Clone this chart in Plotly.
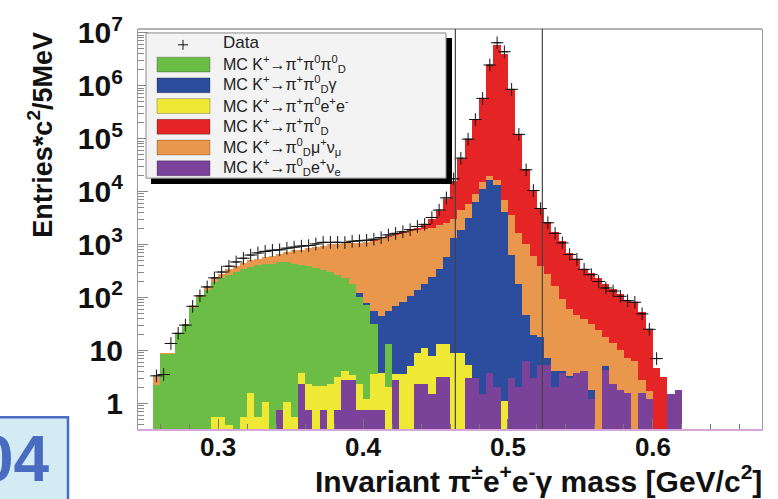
import numpy as np
import plotly.graph_objects as go

# ---------------- data (5 MeV bins, 0.255 - 0.620 GeV/c^2) ----------------
bin_lo, bin_w, n_bins = 0.255, 0.005, 73
bin_centers = bin_lo + bin_w * (np.arange(n_bins) + 0.5)

# stacked (cumulative) levels, as drawn by the THStack: each list is the top of the layer
top_pi0D_pip = [  # red  K+ -> pi+ pi0_D (total MC)
    3.1, 9, 9.1, 21, 31, 68, 110, 158, 234, 282, 339, 389, 447, 501, 537, 575, 617, 661,
    724, 776, 794, 851, 891, 933, 1000, 1023, 1047, 1072, 1084, 1122, 1200, 1340, 1450,
    1560, 1720, 1850, 2042, 2291, 3020, 4266, 7244, 15850, 40740, 97720, 229000, 575400,
    2455000, 5754000, 3981000, 831800, 120200, 26920, 10470, 4786, 2692, 1698, 1148, 692,
    525, 347, 288, 229, 178, 145, 115, 87, 83, 52, 24, 4.7, 3.2, 1.5, 1.8]
top_kmu3 = [  # orange K+ -> pi0_D mu+ nu
    3.1, 9, 9.1, 21, 31, 68, 110, 158, 234, 282, 339, 389, 447, 501, 537, 575, 617, 661,
    724, 776, 794, 851, 891, 933, 1000, 1023, 1047, 1072, 1084, 1122, 1175, 1318, 1413,
    1514, 1660, 1778, 1905, 1950, 2089, 2291, 2570, 3020, 4467, 5888, 9120, 15140, 19950,
    16600, 6918, 3631, 1660, 1000, 603, 389, 275, 166, 93, 60, 46, 40, 32, 24, 18, 13.5,
    10, 7.1, 6.2, 2.8, 1.74, 0, 0, 1.5, 1.8]
top_pi0Dg = [  # blue K+ -> pi+ pi0_D gamma
    2.2, 8.7, 8.7, 20, 30, 63, 102, 138, 195, 229, 269, 302, 339, 372, 407, 420, 437, 457,
    468, 437, 407, 389, 363, 324, 302, 269, 229, 178, 120, 78, 55, 44, 55, 68, 83, 107,
    138, 182, 245, 347, 575, 1349, 1905, 3162, 6310, 10960, 16220, 13180, 4169, 646, 178,
    46, 19.5, 18, 7.1, 4.0, 4.0, 3.3, 3.7, 4.0, 1.8, 0, 5.0, 2.3, 1.8, 1.6, 0, 1.6, 1.2,
    0, 0, 1.5, 1.8]
top_k3pi = [  # green K+ -> pi+ pi0 pi0_D
    2.2, 8.7, 8.7, 20, 30, 63, 102, 138, 195, 229, 269, 302, 339, 372, 407, 420, 437, 457,
    468, 437, 407, 389, 363, 324, 302, 269, 229, 178, 103, 72, 31, 3.8, 13, 3.6, 3.6, 5.1,
    9.1, 11.2, 7.9, 13, 13, 8.9, 8.9, 5.4, 3.0, 1.5, 3.7, 2.0, 1.1, 3.0, 2.0, 6.2, 3.0,
    5.3, 5.3, 2.0, 3.7, 3.0, 3.7, 4.0, 1.2, 0, 4.3, 2.3, 1.8, 1.6, 0, 1.6, 1.2, 0, 0,
    1.5, 1.8]
top_pipi0ee = [  # yellow K+ -> pi+ pi0 e+ e-
    0, 0, 0, 0, 0, 0, 0, 0, 0.54, 0.54, 0.39, 0, 0.54, 1.6, 0.54, 1.05, 0, 0.76, 1.05,
    0.54, 3.7, 2.3, 2.1, 2.1, 2.3, 3.1, 4.1, 3.5, 2.3, 1.2, 3.6, 3.8, 2.0, 3.6, 3.6, 5.1,
    9.1, 11.2, 7.9, 13, 13, 8.9, 8.9, 5.4, 3.0, 1.5, 3.7, 2.0, 1.1, 3.0, 2.0, 6.2, 3.0,
    5.3, 5.3, 2.0, 3.7, 3.0, 3.7, 4.0, 1.2, 0, 4.3, 2.3, 1.8, 1.6, 0, 1.6, 1.2, 0, 0,
    1.5, 1.8]
top_ke3 = [  # purple K+ -> pi0_D e+ nu
    0, 0, 0, 0, 0, 0, 0, 0, 0, 0, 0, 0, 0, 0, 0, 0, 0, 0.76, 0, 0, 2.3, 0.76, 0, 0.76, 0,
    0.76, 2.7, 2.7, 0.76, 0.76, 0.76, 0.76, 0, 2.7, 0, 0, 2.3, 2.3, 1.5, 3.1, 3.1, 0, 0,
    3.0, 3.0, 1.5, 3.7, 2.0, 0, 3.0, 2.0, 6.2, 3.0, 5.3, 5.3, 2.0, 3.7, 3.0, 3.7, 4.0,
    1.2, 0, 4.3, 2.3, 1.8, 1.6, 0, 1.6, 1.2, 0, 0, 1.5, 1.8]
data_counts = [
    3.3, 3.5, 13.5, 21, 30, 68, 107, 158, 234, 302, 389, 468, 550, 631, 692, 741, 776,
    794, 851, 891, 933, 955, 1023, 1096, 1096, 1100, 1090, 1148, 1175, 1202, 1259, 1349,
    1514, 1622, 1738, 1905, 2188, 2399, 3236, 4467, 7586, 17380, 42660, 97720, 229000,
    575000, 2455000, 6457000, 4365000, 851000, 120000, 25700, 10470, 4786, 2570, 1622,
    1072, 646, 525, 339, 269, 200, 151, 132, 105, 87, 81, 49, 25, 7, 0, 0, 0]

mk_window = [0.4637, 0.5237]

x_ticks = [0.3, 0.4, 0.5, 0.6]
x_ticktext = ["0.3", "0.4", "0.5", "0.6"]
y_ticks = [1, 10, 1e2, 1e3, 1e4, 1e5, 1e6, 1e7]
y_ticktext = ["1", "10", "10<sup>2</sup>", "10<sup>3</sup>", "10<sup>4</sup>",
              "10<sup>5</sup>", "10<sup>6</sup>", "10<sup>7</sup>"]

legend_labels = [
    "MC K<sup>+</sup>→π<sup>+</sup>π<sup>0</sup>π<sup>0</sup><sub>D</sub>",
    "MC K<sup>+</sup>→π<sup>+</sup>π<sup>0</sup><sub>D</sub>γ",
    "MC K<sup>+</sup>→π<sup>+</sup>π<sup>0</sup>e<sup>+</sup>e<sup>-</sup>",
    "MC K<sup>+</sup>→π<sup>+</sup>π<sup>0</sup><sub>D</sub>",
    "MC K<sup>+</sup>→π<sup>0</sup><sub>D</sub>μ<sup>+</sup>ν<sub>μ</sub>",
    "MC K<sup>+</sup>→π<sup>0</sup><sub>D</sub>e<sup>+</sup>ν<sub>e</sub>",
]

C_GREEN, C_BLUE, C_YELLOW = "#6bbd46", "#2c4d9e", "#efe835"
C_RED, C_ORANGE, C_PURPLE = "#e52525", "#e8974d", "#7b4299"
legend_colors = [C_GREEN, C_BLUE, C_YELLOW, C_RED, C_ORANGE, C_PURPLE]

FONT = "Liberation Sans, Arial, Helvetica, sans-serif"

# ---------------- figure ----------------
W, H = 778, 499
L, R, T, B = 138, 762, 24, 429


def px(x):
    return (x - L) / (R - L)


def py(y):
    return (B - y) / (B - T)


def nz(v):
    return [val if val and val > 0 else None for val in v]


fig = go.Figure()
for vals, col in [(top_pi0D_pip, C_RED), (top_kmu3, C_ORANGE), (top_pi0Dg, C_BLUE),
                  (top_k3pi, C_GREEN), (top_pipi0ee, C_YELLOW), (top_ke3, C_PURPLE)]:
    fig.add_trace(go.Bar(x=bin_centers, y=nz(vals), width=bin_w,
                         marker=dict(color=col, line=dict(width=0)),
                         showlegend=False, hoverinfo="skip"))

fig.add_trace(go.Scatter(
    x=bin_centers, y=nz(data_counts), mode="markers",
    marker=dict(symbol="cross-thin", size=9, color="black", line=dict(width=1, color="#111")),
    error_x=dict(type="constant", value=bin_w / 2, width=0, thickness=1, color="#111"),
    showlegend=False))

minor_y = [m * 10 ** k for k in range(-1, 7) for m in range(2, 10) if m * 10 ** k > 0.33]

fig.update_layout(
    width=W, height=H, margin=dict(l=L, r=W - R, t=T, b=H - B),
    paper_bgcolor="white", plot_bgcolor="white",
    barmode="overlay", bargap=0,
    font=dict(family=FONT, color="#111"),
    xaxis=dict(range=[0.2448, 0.6752], tickmode="array", tickvals=x_ticks,
               ticktext=x_ticktext, ticks="inside", ticklen=10, tickcolor="#777",
               tickfont=dict(size=26, weight="bold", family=FONT, color="#111"),
               showline=True, linecolor="#d4a6da", linewidth=1.5, mirror=False,
               showgrid=False, zeroline=False, ticklabelstandoff=-6,
               minor=dict(ticks="inside", ticklen=5, tickcolor="#777", dtick=0.02, tick0=0)),
    yaxis=dict(type="log", range=[-0.485, 7.07], tickmode="array", tickvals=y_ticks,
               ticktext=y_ticktext, ticks="inside", ticklen=10, tickcolor="#888",
               tickfont=dict(size=30, weight="bold", family=FONT, color="#111"),
               showline=True, linecolor="#999", linewidth=1.2, mirror=True,
               showgrid=False, zeroline=False, ticklabelstandoff=8,
               minor=dict(ticks="inside", ticklen=6, tickcolor="#888",
                          tickmode="array", tickvals=minor_y)),
)

shapes = []
# top frame line
shapes.append(dict(type="line", xref="paper", yref="paper", x0=0, x1=1, y0=1, y1=1,
                   line=dict(color="#999", width=1.5), layer="above"))
# K mass window lines
for xv in mk_window:
    shapes.append(dict(type="line", xref="x", yref="paper", x0=xv, x1=xv, y0=0, y1=1,
                       line=dict(color="#444", width=1.2), layer="above"))
# legend box with shadow
shapes.append(dict(type="rect", xref="paper", yref="paper", x0=px(151), x1=px(452),
                   y0=py(181), y1=py(33), fillcolor="black", line=dict(width=0), layer="above"))
shapes.append(dict(type="rect", xref="paper", yref="paper", x0=px(146), x1=px(446),
                   y0=py(175), y1=py(28), fillcolor="#f3f3f3",
                   line=dict(color="#8a8a8a", width=1), layer="above"))
# legend "+" marker for data
shapes.append(dict(type="line", xref="paper", yref="paper", x0=px(178), x1=px(188),
                   y0=py(40), y1=py(40), line=dict(color="#111", width=1), layer="above"))
shapes.append(dict(type="line", xref="paper", yref="paper", x0=px(183), x1=px(183),
                   y0=py(35), y1=py(45), line=dict(color="#111", width=1), layer="above"))
row_y = [60, 81, 102, 123, 144, 165]
for yc, col in zip(row_y, legend_colors):
    shapes.append(dict(type="rect", xref="paper", yref="paper", x0=px(157), x1=px(210),
                       y0=py(yc + 7.5), y1=py(yc - 7.5), fillcolor=col,
                       line=dict(color="rgba(0,0,0,0.25)", width=1), layer="above"))
# corner page-number box
shapes.append(dict(type="rect", xref="paper", yref="paper", x0=px(-10), x1=px(68),
                   y0=py(510), y1=py(417), fillcolor="#d3ecf3",
                   line=dict(color="#4a6cc0", width=2.5), layer="above"))
fig.update_layout(shapes=shapes)

ann = []
ann.append(dict(text="Data", xref="paper", yref="paper", x=px(221), y=py(38),
                xanchor="left", yanchor="middle", showarrow=False,
                font=dict(size=17, color="#222", family=FONT)))
for yc, lab in zip(row_y, legend_labels):
    ann.append(dict(text=lab, xref="paper", yref="paper", x=px(221), y=py(yc - 1),
                    xanchor="left", yanchor="middle", showarrow=False,
                    font=dict(size=16, color="#222", family=FONT)))
ann.append(dict(text="Invariant π<sup>±</sup>e<sup>+</sup>e<sup>-</sup>γ mass [GeV/c<sup>2</sup>]",
                xref="paper", yref="paper", x=px(764), y=py(480), xanchor="right",
                yanchor="middle", showarrow=False,
                font=dict(size=30, weight="bold", color="#111", family=FONT)))
ann.append(dict(text="Entries*c<sup>2</sup>/5MeV", xref="paper", yref="paper",
                x=px(40), y=py(131), xanchor="center", yanchor="middle", textangle=-90,
                showarrow=False, font=dict(size=27, weight="bold", color="#111", family=FONT)))
ann.append(dict(text="04", xref="paper", yref="paper", x=px(52), y=py(459),
                xanchor="right", yanchor="middle", showarrow=False,
                font=dict(size=64, weight="bold", color="#4a6cc0", family=FONT)))
fig.update_layout(annotations=ann)

fig.write_html("out.html")
